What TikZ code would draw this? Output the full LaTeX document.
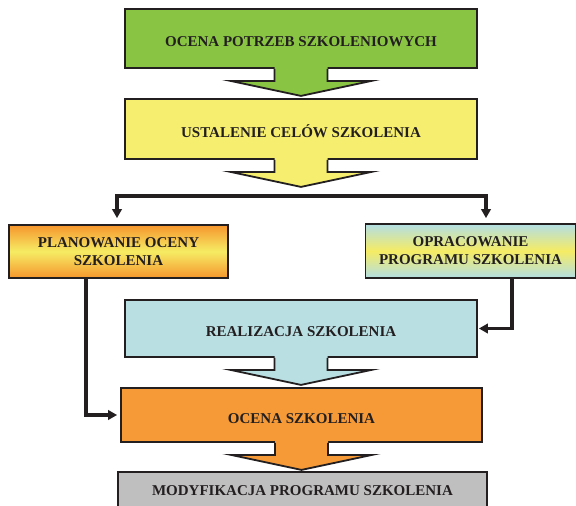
\documentclass[tikz,border=0pt]{standalone}
\usepackage{fontspec}
\setmainfont{Liberation Serif}
\usetikzlibrary{arrows.meta,calc}

\definecolor{ink}{RGB}{35,31,32}
\definecolor{fgreen}{RGB}{137,196,66}
\definecolor{fyellow}{RGB}{246,238,110}
\definecolor{fblue}{RGB}{185,223,227}
\definecolor{forange}{RGB}{246,154,56}
\definecolor{fgray}{RGB}{191,191,191}
\definecolor{gorange}{RGB}{246,150,45}
\definecolor{gyellow}{RGB}{246,236,100}
\definecolor{gblue}{RGB}{178,222,228}

% block arrow hanging below a box: #1 node name, #2 fill colour
\newcommand{\downblock}[2]{%
  \fill[#2] ([xshift=-26.5pt]#1.south) ++(0,-2) -- ++(0,14) -- ++(-44,0)
    -- ++(70.5,15) -- ++(70.5,-15) -- ++(-44,0) -- ++(0,-14) -- cycle;
  \draw[outline] ([xshift=-26.5pt]#1.south) -- ++(0,12) -- ++(-44,0)
    -- ++(70.5,15) -- ++(70.5,-15) -- ++(-44,0) -- ++(0,-12);
}

\begin{document}
\begin{tikzpicture}[x=1pt,y=-1pt,
  outline/.style={draw=ink,line width=1.8pt,line join=miter},
  box/.style={outline,rectangle,inner sep=2pt,align=center,text=ink,
    font=\fontsize{15}{18}\selectfont\bfseries},
  lowtext/.style={text height=16pt,text depth=0pt},
  link/.style={draw=ink,line width=3.2pt,-{Triangle[length=9pt,width=9.5pt]}}]
\useasboundingbox (0,0) rectangle (576,506);

\node[box,lowtext,fill=fgreen,minimum width=352pt,minimum height=59pt] (ocp) at (301,38.5)
  {OCENA POTRZEB SZKOLENIOWYCH};
\node[box,lowtext,fill=fyellow,minimum width=352pt,minimum height=60pt] (ust) at (301,129)
  {USTALENIE CELÓW SZKOLENIA};
\node[box,top color=gorange,bottom color=gorange,middle color=gyellow,
  minimum width=219pt,minimum height=53pt] (plan) at (118.5,251.5)
  {PLANOWANIE OCENY\\SZKOLENIA};
\node[box,top color=gblue,bottom color=gblue,middle color=gyellow,
  minimum width=210pt,minimum height=54pt] (opr) at (470.5,251)
  {OPRACOWANIE\\PROGRAMU SZKOLENIA};
\node[box,lowtext,fill=fblue,minimum width=352pt,minimum height=57pt] (real) at (301,328.5)
  {REALIZACJA SZKOLENIA};
\node[box,lowtext,fill=forange,minimum width=361pt,minimum height=54pt] (oce) at (301.5,415)
  {OCENA SZKOLENIA};
\node[box,fill=fgray,minimum width=369pt,minimum height=38pt] (mod) at (302.5,491)
  {MODYFIKACJA PROGRAMU SZKOLENIA};

\downblock{ocp}{fgreen}
\downblock{ust}{fyellow}
\downblock{real}{fblue}
\downblock{oce}{forange}

% branching below the goals
\coordinate (split) at (301,196);
\draw[link,shorten >=6pt] (split) -| ([xshift=-1.5pt]plan.north);
\draw[link,shorten >=5pt] (split) -| ([xshift=15.5pt]opr.north);

% side links into the lower boxes
\draw[link,shorten >=3pt] ([xshift=-32.5pt]plan.south) |- (oce.west);
\draw[link,shorten >=1pt] ([xshift=41.5pt]opr.south) |- (real.east);
\end{tikzpicture}
\end{document}
